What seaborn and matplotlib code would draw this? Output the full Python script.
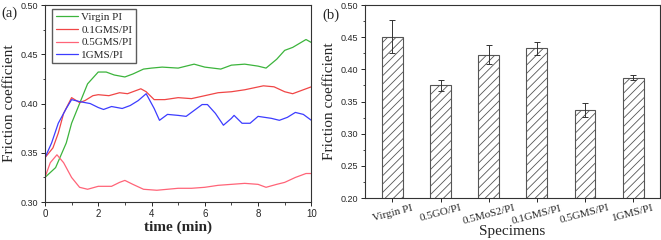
import numpy as np
import pandas as pd
import seaborn as sns
import matplotlib.pyplot as plt

# (a) friction coefficient vs time
t_virgin = [0, 0.4, 0.8, 1.0, 1.3, 1.6, 2.0, 2.3, 2.6, 3.0, 3.3, 3.7, 4.0, 4.4, 5.0, 5.3,
            5.6, 6.0, 6.6, 7.0, 7.5, 8.0, 8.3, 8.7, 9.0, 9.3, 9.8, 10.0]
mu_virgin = [0.325, 0.335, 0.360, 0.380, 0.400, 0.420, 0.432, 0.432, 0.429, 0.427, 0.430,
             0.435, 0.436, 0.437, 0.436, 0.438, 0.440, 0.437, 0.435, 0.439, 0.440, 0.438,
             0.436, 0.445, 0.454, 0.457, 0.465, 0.462]

t_01gms = [0, 0.3, 0.5, 0.7, 1.0, 1.3, 1.5, 1.8, 2.0, 2.4, 2.8, 3.1, 3.4, 3.6, 3.8, 4.1,
           4.5, 5.0, 5.5, 6.0, 6.5, 7.0, 7.5, 8.2, 8.6, 9.0, 9.3, 9.7, 10.0]
mu_01gms = [0.345, 0.355, 0.370, 0.390, 0.406, 0.401, 0.403, 0.408, 0.409, 0.408, 0.411,
            0.410, 0.413, 0.415, 0.412, 0.404, 0.404, 0.406, 0.405, 0.408, 0.411, 0.412,
            0.414, 0.418, 0.417, 0.412, 0.410, 0.414, 0.417]

t_05gms = [0, 0.2, 0.45, 0.7, 1.0, 1.3, 1.6, 2.0, 2.5, 2.8, 3.0, 3.3, 3.7, 4.2, 5.0, 5.5,
           6.0, 6.5, 7.0, 7.5, 8.0, 8.3, 8.7, 9.0, 9.4, 9.8, 10.0]
mu_05gms = [0.325, 0.340, 0.348, 0.340, 0.325, 0.315, 0.313, 0.316, 0.316, 0.320, 0.322,
            0.318, 0.313, 0.312, 0.314, 0.314, 0.315, 0.317, 0.318, 0.319, 0.318, 0.315,
            0.318, 0.320, 0.325, 0.329, 0.329]

t_1gms = [0, 0.25, 0.5, 0.8, 1.0, 1.3, 1.7, 2.0, 2.2, 2.5, 2.9, 3.2, 3.5, 3.8, 4.1, 4.3,
          4.6, 5.0, 5.3, 5.6, 5.9, 6.1, 6.4, 6.7, 7.0, 7.1, 7.4, 7.7, 8.0, 8.5, 8.8, 9.1,
          9.4, 9.7, 10.0]
mu_1gms = [0.345, 0.360, 0.380, 0.395, 0.404, 0.402, 0.400, 0.396, 0.394, 0.397, 0.395,
           0.398, 0.403, 0.410, 0.395, 0.383, 0.389, 0.388, 0.387, 0.393, 0.399, 0.399,
           0.390, 0.378, 0.385, 0.388, 0.380, 0.380, 0.387, 0.385, 0.383, 0.386, 0.391,
           0.389, 0.383]

series_names = ['Virgin PI', '0.1GMS/PI', '0.5GMS/PI', '1GMS/PI']
series_colors = ['#3cb43c', '#f04646', '#ff6478', '#3c3cff']

# (b) average friction coefficient per specimen
specimens = ['Virgin PI', '0.5GO/PI', '0.5MoS2/PI', '0.1GMS/PI', '0.5GMS/PI', '1GMS/PI']
mu_mean = [0.451, 0.375, 0.423, 0.433, 0.337, 0.387]
mu_err = [0.026, 0.009, 0.015, 0.010, 0.011, 0.004]

sns.set_style('ticks')
plt.rcParams['font.family'] = ['Liberation Serif', 'DejaVu Serif']
plt.rcParams['hatch.linewidth'] = 0.6
plt.rcParams['axes.linewidth'] = 0.8

fig = plt.figure(figsize=(6.61, 2.40), dpi=100)
ax1 = fig.add_axes([0.068, 0.158, 0.403, 0.821])
ax2 = fig.add_axes([0.552, 0.175, 0.446, 0.804])

df = pd.concat([
    pd.DataFrame({'time': t, 'mu': m, 'sample': n})
    for t, m, n in zip([t_virgin, t_01gms, t_05gms, t_1gms],
                       [mu_virgin, mu_01gms, mu_05gms, mu_1gms], series_names)
])
sns.lineplot(data=df, x='time', y='mu', hue='sample', hue_order=series_names,
             palette=series_colors, lw=0.9, ax=ax1, legend=False)
ax1.set_xlim(0, 10)
ax1.set_ylim(0.30, 0.50)
ax1.set_xticks(np.arange(0, 11, 2))
ax1.set_xticks(np.arange(1, 10, 2), minor=True)
ax1.set_yticks(np.arange(0.30, 0.501, 0.05))
ax1.set_yticks(np.arange(0.325, 0.50, 0.05), minor=True)
ax1.set_yticklabels([f'{v:.2f}' for v in np.arange(0.30, 0.501, 0.05)])
ax1.set_xlabel('time (min)', fontsize=11, fontweight='bold', labelpad=1)
ax1.set_ylabel('Friction coefficient', fontsize=11, labelpad=3)
handles = [plt.Line2D([], [], color=c, lw=0.9) for c in series_colors]
ax1.legend(handles, series_names, loc='upper left', bbox_to_anchor=(0.02, 0.99),
           fontsize=8, frameon=True, fancybox=False, edgecolor='#333333',
           handlelength=2.0, handletextpad=0.3, labelspacing=0.25, borderpad=0.3,
           borderaxespad=0.2)
fig.text(0.002, 0.93, '(a)', fontsize=10.5)

bar_df = pd.DataFrame({'specimen': specimens, 'mu': mu_mean})
sns.barplot(data=bar_df, x='specimen', y='mu', color='white', width=0.43,
            edgecolor='#555555', linewidth=0.8, hatch='////', ax=ax2)
ax2.errorbar(np.arange(len(specimens)), mu_mean, yerr=mu_err, fmt='none',
             ecolor='#333333', elinewidth=0.7, capsize=2.2, capthick=0.7)
ax2.set_xlim(-0.57, 5.55)
ax2.set_ylim(0.20, 0.50)
ax2.set_yticks(np.arange(0.20, 0.501, 0.05))
ax2.set_yticks(np.arange(0.225, 0.50, 0.05), minor=True)
ax2.set_yticklabels([f'{v:.2f}' for v in np.arange(0.20, 0.501, 0.05)])
ax2.set_xticks(np.arange(len(specimens)))
ax2.set_xticklabels(specimens, rotation=15, fontsize=8)
ax2.set_xlabel('Specimens', fontsize=11, labelpad=-1)
ax2.set_ylabel('Friction coefficient', fontsize=11, labelpad=3)
fig.text(0.487, 0.92, '(b)', fontsize=10.5)

for ax in (ax1, ax2):
    for lab in ax.get_yticklabels():
        lab.set_fontfamily(['Liberation Sans', 'DejaVu Sans'])
        lab.set_fontsize(6.5)
    ax.tick_params(which='major', direction='out', length=3, width=0.7, pad=2)
    ax.tick_params(which='minor', direction='out', length=1.8, width=0.6)
    for s in ax.spines.values():
        s.set_visible(True)
        s.set_color('#333333')
for lab in ax1.get_xticklabels():
    lab.set_fontfamily(['Liberation Sans', 'DejaVu Sans'])
    lab.set_fontsize(7)
ax2.tick_params(axis='x', which='minor', bottom=False)
ax2.tick_params(axis='x', pad=1)

fig.savefig('out.png', dpi=100)
